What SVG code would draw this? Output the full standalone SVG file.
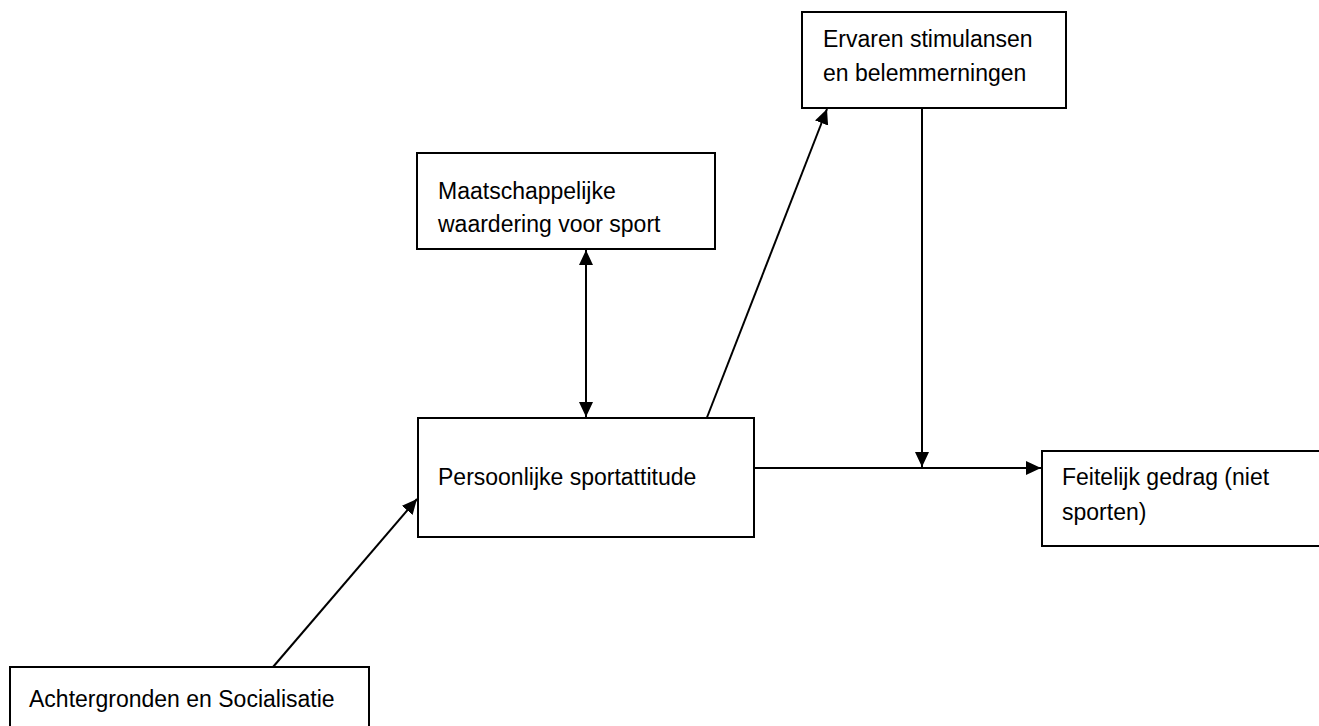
<svg xmlns="http://www.w3.org/2000/svg" width="1319" height="726" viewBox="0 0 1319 726">
<defs>
<style>
.box{fill:#fff;stroke:#000;stroke-width:2}
.t{font-family:"Liberation Sans",Arial,sans-serif;font-size:23px;fill:#000}
.c{stroke:#000;stroke-width:2;fill:none}
</style>
<marker id="ah" markerUnits="userSpaceOnUse" markerWidth="16" markerHeight="16" viewBox="0 0 16 16" refX="15" refY="8" orient="auto-start-reverse">
<path d="M0,1 L15,8 L0,15 z" fill="#000"/>
</marker>
</defs>
<rect width="1319" height="726" fill="#fff"/>
<g id="connectors">
<line class="c" x1="586" y1="250" x2="586" y2="417" marker-start="url(#ah)" marker-end="url(#ah)"/>
<line class="c" x1="706" y1="420" x2="827" y2="109" marker-end="url(#ah)"/>
<line class="c" x1="922" y1="108" x2="922" y2="467" marker-end="url(#ah)"/>
<line class="c" x1="754" y1="468" x2="1041" y2="468" marker-end="url(#ah)"/>
<line class="c" x1="273" y1="667" x2="417" y2="499" marker-end="url(#ah)"/>
</g>
<g id="ervaren">
<rect class="box" x="802" y="12" width="264" height="96"/>
<text class="t" x="823" y="47">Ervaren stimulansen</text>
<text class="t" x="823" y="81">en belemmerningen</text>
</g>
<g id="maatschappelijke">
<rect class="box" x="417" y="153" width="298" height="96"/>
<text class="t" x="438" y="199">Maatschappelijke</text>
<text class="t" x="438" y="232">waardering voor sport</text>
</g>
<g id="persoonlijke">
<rect class="box" x="418" y="418" width="336" height="119"/>
<text class="t" x="438" y="485">Persoonlijke sportattitude</text>
</g>
<g id="feitelijk">
<rect class="box" x="1042" y="451" width="290" height="95"/>
<text class="t" x="1062" y="485">Feitelijk gedrag (niet</text>
<text class="t" x="1062" y="520">sporten)</text>
</g>
<g id="achtergronden">
<rect class="box" x="10" y="667" width="359" height="80"/>
<text class="t" x="29" y="707">Achtergronden en Socialisatie</text>
</g>
</svg>
